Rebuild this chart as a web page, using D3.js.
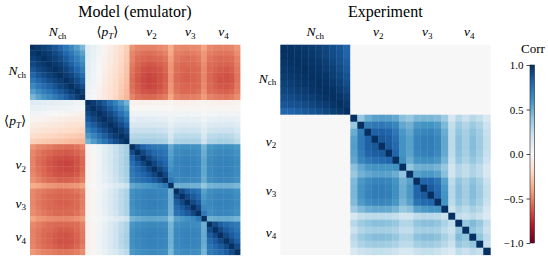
<!DOCTYPE html>
<html>
<head>
<meta charset="utf-8">
<script src="https://cdn.jsdelivr.net/npm/d3@7"></script>
<style>
body { margin: 0; background: #fff; }
svg text { font-family: "Liberation Serif", "DejaVu Serif", serif; fill: #000; }
</style>
</head>
<body>
<div id="chart"></div>
<script>
// observable groups and their number of centrality bins
var modelGroups = [["Nch", 10], ["pT", 8], ["v2", 8], ["v3", 6], ["v4", 6]];
var exptGroups = [["Nch", 10], ["v2", 8], ["v3", 6], ["v4", 6]];
var corrTicks = [1.0, 0.5, 0.0, -0.5, -1.0];

// model (emulator) correlations, lower triangle by block
var modelNchNch = [
  [1.00],
  [0.97, 1.00],
  [0.94, 0.97, 1.00],
  [0.91, 0.95, 0.97, 1.00],
  [0.86, 0.91, 0.94, 0.97, 1.00],
  [0.80, 0.86, 0.90, 0.94, 0.97, 1.00],
  [0.73, 0.79, 0.84, 0.89, 0.93, 0.96, 1.00],
  [0.65, 0.72, 0.77, 0.82, 0.87, 0.92, 0.96, 1.00],
  [0.56, 0.63, 0.69, 0.74, 0.80, 0.85, 0.90, 0.95, 1.00],
  [0.46, 0.54, 0.60, 0.65, 0.71, 0.77, 0.83, 0.89, 0.95, 1.00]
];
var modelPtNch = [
  [0.12, 0.12, 0.11, 0.10, 0.10, 0.09, 0.08, 0.07, 0.06, 0.05],
  [0.08, 0.08, 0.07, 0.06, 0.06, 0.05, 0.04, 0.03, 0.02, 0.01],
  [0.03, 0.03, 0.02, 0.01, 0.00, -0.01, -0.02, -0.03, -0.04, -0.05],
  [-0.02, -0.03, -0.04, -0.05, -0.06, -0.07, -0.08, -0.09, -0.10, -0.10],
  [-0.07, -0.08, -0.09, -0.10, -0.11, -0.12, -0.13, -0.14, -0.15, -0.15],
  [-0.12, -0.13, -0.14, -0.15, -0.16, -0.17, -0.18, -0.19, -0.20, -0.21],
  [-0.18, -0.19, -0.20, -0.21, -0.22, -0.23, -0.24, -0.25, -0.26, -0.27],
  [-0.24, -0.25, -0.26, -0.27, -0.28, -0.29, -0.30, -0.31, -0.32, -0.33]
];
var modelPtPt = [
  [1.00],
  [0.96, 1.00],
  [0.91, 0.96, 1.00],
  [0.85, 0.91, 0.96, 1.00],
  [0.77, 0.84, 0.91, 0.96, 1.00],
  [0.68, 0.76, 0.84, 0.90, 0.96, 1.00],
  [0.58, 0.67, 0.75, 0.83, 0.90, 0.96, 1.00],
  [0.48, 0.57, 0.66, 0.74, 0.82, 0.89, 0.95, 1.00]
];
var modelFlowNch = [
  [-0.45, -0.49, -0.50, -0.52, -0.54, -0.55, -0.56, -0.56, -0.54, -0.50],
  [-0.49, -0.53, -0.56, -0.58, -0.60, -0.61, -0.62, -0.61, -0.59, -0.55],
  [-0.50, -0.55, -0.58, -0.61, -0.64, -0.65, -0.66, -0.65, -0.63, -0.57],
  [-0.50, -0.56, -0.59, -0.63, -0.65, -0.67, -0.68, -0.67, -0.64, -0.58],
  [-0.50, -0.55, -0.58, -0.62, -0.64, -0.66, -0.67, -0.66, -0.64, -0.57],
  [-0.48, -0.53, -0.57, -0.60, -0.63, -0.64, -0.64, -0.64, -0.61, -0.55],
  [-0.46, -0.50, -0.54, -0.57, -0.58, -0.60, -0.60, -0.59, -0.57, -0.52],
  [-0.37, -0.39, -0.42, -0.44, -0.45, -0.46, -0.46, -0.45, -0.44, -0.40],
  [-0.48, -0.51, -0.53, -0.55, -0.56, -0.57, -0.57, -0.56, -0.54, -0.50],
  [-0.49, -0.52, -0.55, -0.57, -0.58, -0.59, -0.59, -0.58, -0.57, -0.52],
  [-0.49, -0.53, -0.56, -0.57, -0.59, -0.60, -0.60, -0.59, -0.57, -0.52],
  [-0.48, -0.52, -0.55, -0.57, -0.58, -0.59, -0.59, -0.58, -0.57, -0.51],
  [-0.47, -0.50, -0.53, -0.55, -0.57, -0.57, -0.57, -0.57, -0.55, -0.50],
  [-0.40, -0.44, -0.45, -0.47, -0.48, -0.49, -0.49, -0.48, -0.46, -0.43],
  [-0.48, -0.51, -0.54, -0.56, -0.57, -0.58, -0.58, -0.57, -0.56, -0.50],
  [-0.50, -0.53, -0.56, -0.57, -0.59, -0.61, -0.61, -0.60, -0.57, -0.52],
  [-0.50, -0.54, -0.57, -0.59, -0.61, -0.63, -0.64, -0.62, -0.59, -0.53],
  [-0.50, -0.54, -0.57, -0.59, -0.62, -0.64, -0.64, -0.63, -0.60, -0.54],
  [-0.49, -0.53, -0.56, -0.58, -0.60, -0.62, -0.63, -0.61, -0.58, -0.52],
  [-0.44, -0.47, -0.50, -0.51, -0.53, -0.54, -0.54, -0.53, -0.51, -0.47]
];
var modelFlowPt = [
  [-0.04, -0.01, 0.05, 0.10, 0.16, 0.22, 0.28, 0.33],
  [-0.04, -0.01, 0.05, 0.11, 0.17, 0.23, 0.29, 0.34],
  [-0.05, -0.01, 0.05, 0.11, 0.17, 0.23, 0.29, 0.35],
  [-0.05, -0.01, 0.05, 0.11, 0.17, 0.23, 0.29, 0.35],
  [-0.04, -0.01, 0.05, 0.11, 0.17, 0.23, 0.29, 0.34],
  [-0.04, -0.01, 0.05, 0.10, 0.16, 0.22, 0.28, 0.33],
  [-0.04, -0.01, 0.04, 0.10, 0.15, 0.21, 0.27, 0.32],
  [-0.02, 0.00, 0.03, 0.06, 0.10, 0.14, 0.18, 0.22],
  [-0.05, -0.02, 0.03, 0.08, 0.14, 0.20, 0.26, 0.31],
  [-0.05, -0.02, 0.03, 0.09, 0.15, 0.21, 0.27, 0.32],
  [-0.05, -0.02, 0.04, 0.09, 0.15, 0.21, 0.27, 0.32],
  [-0.05, -0.02, 0.03, 0.09, 0.15, 0.21, 0.27, 0.32],
  [-0.04, -0.02, 0.03, 0.08, 0.14, 0.20, 0.26, 0.31],
  [-0.03, -0.01, 0.02, 0.05, 0.09, 0.13, 0.17, 0.21],
  [-0.05, -0.02, 0.03, 0.08, 0.14, 0.20, 0.26, 0.31],
  [-0.05, -0.02, 0.03, 0.09, 0.15, 0.21, 0.27, 0.32],
  [-0.05, -0.02, 0.04, 0.09, 0.15, 0.21, 0.28, 0.33],
  [-0.05, -0.02, 0.04, 0.09, 0.15, 0.21, 0.28, 0.33],
  [-0.05, -0.02, 0.03, 0.09, 0.15, 0.21, 0.27, 0.32],
  [-0.04, -0.01, 0.03, 0.07, 0.12, 0.17, 0.22, 0.27]
];
var modelFlowFlow = [
  [1.00],
  [0.89, 1.00],
  [0.81, 0.91, 1.00],
  [0.76, 0.84, 0.92, 1.00],
  [0.73, 0.79, 0.85, 0.92, 1.00],
  [0.71, 0.76, 0.80, 0.85, 0.92, 1.00],
  [0.69, 0.73, 0.77, 0.80, 0.85, 0.91, 1.00],
  [0.52, 0.55, 0.57, 0.59, 0.62, 0.66, 0.72, 1.00],
  [0.61, 0.64, 0.66, 0.67, 0.67, 0.66, 0.65, 0.49, 1.00],
  [0.62, 0.65, 0.67, 0.68, 0.68, 0.67, 0.66, 0.50, 0.90, 1.00],
  [0.62, 0.66, 0.68, 0.69, 0.69, 0.68, 0.66, 0.50, 0.83, 0.91, 1.00],
  [0.61, 0.65, 0.67, 0.68, 0.68, 0.67, 0.65, 0.49, 0.78, 0.84, 0.91, 1.00],
  [0.60, 0.63, 0.65, 0.66, 0.66, 0.65, 0.64, 0.48, 0.74, 0.79, 0.84, 0.91, 1.00],
  [0.47, 0.50, 0.52, 0.53, 0.53, 0.52, 0.51, 0.40, 0.55, 0.58, 0.61, 0.65, 0.72, 1.00],
  [0.59, 0.62, 0.64, 0.65, 0.65, 0.64, 0.63, 0.47, 0.62, 0.64, 0.65, 0.64, 0.63, 0.49, 1.00],
  [0.61, 0.64, 0.66, 0.67, 0.67, 0.66, 0.65, 0.48, 0.64, 0.66, 0.67, 0.66, 0.65, 0.50, 0.90, 1.00],
  [0.62, 0.65, 0.67, 0.68, 0.68, 0.67, 0.66, 0.49, 0.65, 0.67, 0.68, 0.67, 0.66, 0.51, 0.83, 0.91, 1.00],
  [0.62, 0.65, 0.67, 0.68, 0.68, 0.67, 0.66, 0.49, 0.65, 0.67, 0.68, 0.67, 0.66, 0.51, 0.78, 0.84, 0.91, 1.00],
  [0.61, 0.64, 0.66, 0.67, 0.67, 0.66, 0.65, 0.48, 0.64, 0.66, 0.67, 0.66, 0.65, 0.50, 0.74, 0.79, 0.84, 0.91, 1.00],
  [0.58, 0.61, 0.63, 0.64, 0.64, 0.63, 0.62, 0.46, 0.61, 0.63, 0.64, 0.63, 0.62, 0.47, 0.71, 0.74, 0.78, 0.83, 0.90, 1.00]
];

// experiment correlations, lower triangle by block
var exptNchNch = [
  [1.00],
  [0.99, 1.00],
  [0.98, 0.99, 1.00],
  [0.97, 0.98, 0.99, 1.00],
  [0.96, 0.97, 0.98, 0.99, 1.00],
  [0.94, 0.95, 0.97, 0.98, 0.99, 1.00],
  [0.92, 0.93, 0.95, 0.96, 0.98, 0.99, 1.00],
  [0.89, 0.90, 0.92, 0.94, 0.95, 0.97, 0.99, 1.00],
  [0.86, 0.87, 0.88, 0.90, 0.92, 0.94, 0.96, 0.98, 1.00],
  [0.80, 0.81, 0.83, 0.85, 0.87, 0.89, 0.92, 0.95, 0.97, 1.00]
];
// no multiplicity / flow correlation in the data
var exptFlowNch = [
  [0, 0, 0, 0, 0, 0, 0, 0, 0, 0], [0, 0, 0, 0, 0, 0, 0, 0, 0, 0],
  [0, 0, 0, 0, 0, 0, 0, 0, 0, 0], [0, 0, 0, 0, 0, 0, 0, 0, 0, 0],
  [0, 0, 0, 0, 0, 0, 0, 0, 0, 0], [0, 0, 0, 0, 0, 0, 0, 0, 0, 0],
  [0, 0, 0, 0, 0, 0, 0, 0, 0, 0], [0, 0, 0, 0, 0, 0, 0, 0, 0, 0],
  [0, 0, 0, 0, 0, 0, 0, 0, 0, 0], [0, 0, 0, 0, 0, 0, 0, 0, 0, 0],
  [0, 0, 0, 0, 0, 0, 0, 0, 0, 0], [0, 0, 0, 0, 0, 0, 0, 0, 0, 0],
  [0, 0, 0, 0, 0, 0, 0, 0, 0, 0], [0, 0, 0, 0, 0, 0, 0, 0, 0, 0],
  [0, 0, 0, 0, 0, 0, 0, 0, 0, 0], [0, 0, 0, 0, 0, 0, 0, 0, 0, 0],
  [0, 0, 0, 0, 0, 0, 0, 0, 0, 0], [0, 0, 0, 0, 0, 0, 0, 0, 0, 0],
  [0, 0, 0, 0, 0, 0, 0, 0, 0, 0], [0, 0, 0, 0, 0, 0, 0, 0, 0, 0]
];
var exptFlowFlow = [
  [1.00],
  [0.38, 1.00],
  [0.50, 0.70, 1.00],
  [0.55, 0.72, 0.82, 1.00],
  [0.56, 0.72, 0.82, 0.85, 1.00],
  [0.55, 0.70, 0.80, 0.83, 0.84, 1.00],
  [0.52, 0.66, 0.72, 0.76, 0.78, 0.80, 1.00],
  [0.42, 0.52, 0.58, 0.60, 0.60, 0.60, 0.62, 1.00],
  [0.38, 0.48, 0.52, 0.55, 0.55, 0.54, 0.50, 0.40, 1.00],
  [0.45, 0.58, 0.64, 0.67, 0.67, 0.66, 0.60, 0.48, 0.55, 1.00],
  [0.46, 0.60, 0.66, 0.70, 0.70, 0.68, 0.62, 0.50, 0.58, 0.80, 1.00],
  [0.46, 0.60, 0.67, 0.70, 0.70, 0.69, 0.62, 0.50, 0.58, 0.80, 0.84, 1.00],
  [0.44, 0.57, 0.63, 0.66, 0.66, 0.65, 0.59, 0.47, 0.55, 0.74, 0.78, 0.80, 1.00],
  [0.36, 0.45, 0.50, 0.52, 0.52, 0.51, 0.47, 0.38, 0.42, 0.55, 0.58, 0.60, 0.60, 1.00],
  [0.18, 0.24, 0.26, 0.27, 0.27, 0.26, 0.24, 0.20, 0.20, 0.26, 0.28, 0.28, 0.27, 0.22, 1.00],
  [0.28, 0.36, 0.40, 0.42, 0.42, 0.41, 0.38, 0.30, 0.30, 0.40, 0.42, 0.42, 0.40, 0.32, 0.25, 1.00],
  [0.22, 0.30, 0.33, 0.35, 0.35, 0.34, 0.31, 0.25, 0.25, 0.33, 0.35, 0.35, 0.33, 0.27, 0.22, 0.38, 1.00],
  [0.28, 0.37, 0.41, 0.43, 0.43, 0.42, 0.39, 0.31, 0.31, 0.41, 0.43, 0.43, 0.41, 0.33, 0.26, 0.44, 0.40, 1.00],
  [0.24, 0.31, 0.35, 0.36, 0.36, 0.35, 0.32, 0.26, 0.26, 0.34, 0.36, 0.36, 0.34, 0.28, 0.22, 0.38, 0.34, 0.40, 1.00],
  [0.16, 0.21, 0.23, 0.24, 0.24, 0.23, 0.21, 0.17, 0.17, 0.22, 0.24, 0.24, 0.22, 0.18, 0.15, 0.25, 0.22, 0.26, 0.23, 1.00]
];

// glue the blocks into full lower-triangle rows
var modelRows = modelNchNch
    .concat(modelPtNch.map(function(r, i) { return r.concat(modelPtPt[i]); }))
    .concat(modelFlowNch.map(function(r, i) { return r.concat(modelFlowPt[i], modelFlowFlow[i]); }));
var exptRows = exptNchNch
    .concat(exptFlowNch.map(function(r, i) { return r.concat(exptFlowFlow[i]); }));

// chart size
var width = 548;
var height = 258;
var size = 210;
var topY = 44.7;

var svg = d3.select("#chart")
    .append("svg")
    .attr("width", width)
    .attr("height", height);

// RdBu with straight-line steps between the 11 brewer colours
var rdbu = d3.schemeRdBu[11];
var color = d3.scaleLinear()
    .domain(d3.range(11).map(function(i) { return -1 + i * 0.2; }))
    .range(rdbu)
    .interpolate(d3.interpolateRgb)
    .clamp(true);

function cellsFrom(rows) {
    var cells = [];
    rows.forEach(function(r, i) {
        r.forEach(function(v, j) {
            cells.push({ row: i, col: j, v: v });
            if (i !== j) cells.push({ row: j, col: i, v: v });
        });
    });
    return cells;
}

// math-style label: italic symbol with subscript
function mathLabel(text, key) {
    var subSize = "9px";
    if (key === "Nch") {
        text.append("tspan").attr("font-style", "italic").text("N");
        text.append("tspan").attr("font-size", subSize).attr("dy", 2.5).text("ch");
    }
    else if (key === "pT") {
        text.append("tspan").attr("font-family", "DejaVu Serif").attr("font-size", "13px").text("\u27E8");
        text.append("tspan").attr("font-style", "italic").text("p");
        text.append("tspan").attr("font-style", "italic").attr("font-size", subSize).attr("dy", 2.5).text("T");
        text.append("tspan").attr("font-family", "DejaVu Serif").attr("font-size", "13px").attr("dy", -2.5).text("\u27E9");
    }
    else {
        text.append("tspan").attr("font-style", "italic").text("v");
        text.append("tspan").attr("font-size", subSize).attr("dy", 2.5).text(key.slice(1));
    }
}

function drawMatrix(x0, title, groups, rows) {
    var n = rows.length;
    var idx = d3.range(n);
    var x = d3.scaleBand().domain(idx).range([x0, x0 + size]);
    var y = d3.scaleBand().domain(idx).range([topY, topY + size]);
    var g = svg.append("g");

    g.selectAll("rect")
        .data(cellsFrom(rows))
        .enter()
        .append("rect")
        .attr("x", function(d) { return x(d.col); })
        .attr("y", function(d) { return y(d.row); })
        .attr("width", x.bandwidth() + 0.4)
        .attr("height", y.bandwidth() + 0.4)
        .attr("fill", function(d) { return color(d.v); });

    svg.append("text")
        .attr("x", x0 + size / 2)
        .attr("y", 17)
        .attr("text-anchor", "middle")
        .attr("font-size", "16px")
        .text(title);

    // group labels at the middle of each block
    var start = 0;
    groups.forEach(function(gr) {
        var mid = start + gr[1] / 2;
        var px = x0 + mid * x.step();
        var py = topY + mid * y.step();
        mathLabel(svg.append("text")
            .attr("x", px)
            .attr("y", 36)
            .attr("text-anchor", "middle")
            .attr("font-size", "13.5px"), gr[0]);
        mathLabel(svg.append("text")
            .attr("x", x0 - 4)
            .attr("y", py + 3)
            .attr("text-anchor", "end")
            .attr("font-size", "13.5px"), gr[0]);
        start += gr[1];
    });
}

drawMatrix(30, "Model (emulator)", modelGroups, modelRows);
drawMatrix(280.3, "Experiment", exptGroups, exptRows);

// colorbar
var cbX = 530;
var cbW = 4.5;
var cbScale = d3.scaleLinear().domain([-1, 1]).range([243, 65]);

var grad = svg.append("defs").append("linearGradient")
    .attr("id", "cbgrad")
    .attr("x1", 0).attr("y1", 1).attr("x2", 0).attr("y2", 0);
grad.selectAll("stop")
    .data(rdbu)
    .enter()
    .append("stop")
    .attr("offset", function(c, i) { return i / 10; })
    .attr("stop-color", function(c) { return c; });

svg.append("rect")
    .attr("x", cbX)
    .attr("y", cbScale(1))
    .attr("width", cbW)
    .attr("height", cbScale(-1) - cbScale(1))
    .attr("fill", "url(#cbgrad)")
    .attr("stroke", "#222")
    .attr("stroke-width", 0.6);

var cbAxis = d3.axisLeft(cbScale)
    .tickValues(corrTicks)
    .tickSize(3.5)
    .tickPadding(3)
    .tickFormat(function(d) { return d3.format(".1f")(d).replace("-", "\u2212"); });

svg.append("g")
    .attr("transform", "translate(" + cbX + ",0)")
    .call(cbAxis)
    .call(function(g) { g.select(".domain").remove(); })
    .call(function(g) {
        g.selectAll("text")
            .attr("font-family", "Liberation Serif, serif")
            .attr("font-size", "11px")
            .attr("fill", "#000");
        g.selectAll("line").attr("stroke", "#000").attr("stroke-width", 0.7);
    });

svg.append("text")
    .attr("x", 533)
    .attr("y", 53)
    .attr("text-anchor", "middle")
    .attr("font-size", "13px")
    .text("Corr");
</script>
</body>
</html>
